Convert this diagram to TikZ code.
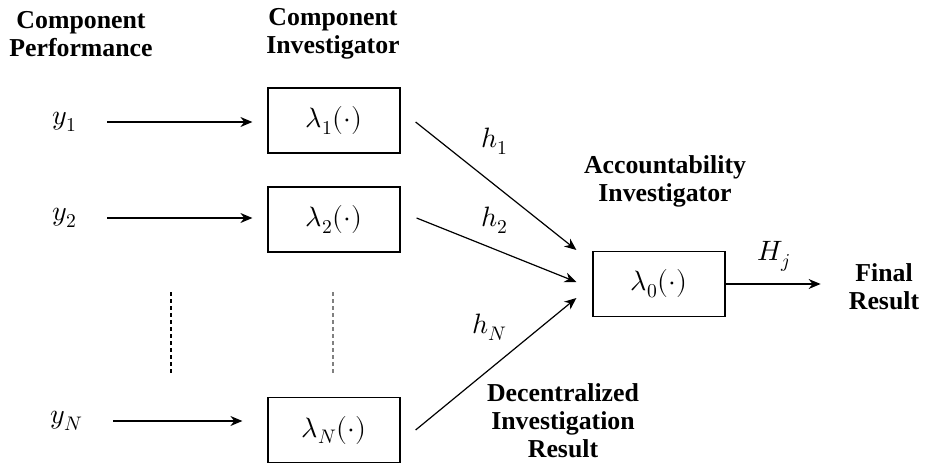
\documentclass[tikz,border=0pt]{standalone}
\usepackage{fontspec}
\usepackage{unicode-math}
\setmainfont{Liberation Serif}
\setmathfont{Latin Modern Math}
\usetikzlibrary{arrows.meta,calc}
\begin{document}
\begin{tikzpicture}[x=1pt,y=-1pt,
  lbl/.style={align=center,font=\fontsize{25.8}{28}\selectfont\bfseries,inner sep=0pt},
  mth/.style={font=\fontsize{28}{32}\selectfont,inner sep=0pt},
  fbox/.style={draw,line width=1.2pt,minimum width=132pt,minimum height=65pt,inner sep=0pt,font=\fontsize{28}{32}\selectfont},
  arr/.style={line width=1.2pt,-{Stealth[length=12pt,width=10pt]}},
  dots/.style={line width=1.1pt,dash pattern=on 4pt off 3pt}]
\path[use as bounding box] (0,0) rectangle (925,468);
% header labels
\node[lbl] (lcp) at (81,34) {Component\\Performance};
\node[lbl] (lci) at (333,34) {Component\\Investigator};
\node[lbl] (lai) at (665,181) {Accountability\\Investigator};
\node[lbl] (lfr) at (884,287) {Final\\Result};
\node[lbl] (ldr) at (563,421) {Decentralized\\Investigation\\Result};
% inputs
\node[mth] (y1) at (65,122) {$y_1$};
\node[mth] (y2) at (65,218) {$y_2$};
\node[mth] (yN) at (67,421) {$y_N$};
% component boxes
\node[fbox] (b1) at (334,120.5) {$\lambda_1(\cdot)$};
\node[fbox] (b2) at (334,219.5) {$\lambda_2(\cdot)$};
\node[fbox] (bN) at (334,430) {$\lambda_N(\cdot)$};
\node[fbox] (b0) at (659,284) {$\lambda_0(\cdot)$};
% input arrows
\draw[arr] ([xshift=42pt]y1.center) -- ([xshift=-15pt]y1.center -| b1.west);
\draw[arr] ([xshift=42pt]y2.center) -- ([xshift=-15pt]y2.center -| b2.west);
\draw[arr] ([xshift=46pt]yN.center) -- ([xshift=-25pt]yN.center -| bN.west);
% vertical ellipsis
\coordinate (d1a) at (171,292); \coordinate (d1b) at (171,374);
\coordinate (d2a) at (333,292); \coordinate (d2b) at (333,374);
\draw[dots] (d1a) -- (d1b);
\draw[dots,gray] (d2a) -- (d2b);
% arrows to accountability investigator
\draw[arr] ($(b1.east)+(15,1.5)$) -- ($(b0.west)+(-16,-34)$);
\draw[arr] ($(b2.east)+(16,-1.5)$) -- ($(b0.west)+(-16,-2)$);
\draw[arr] ($(bN.east)+(15,0)$) -- ($(b0.west)+(-16,14)$);
\node[mth] (h1) at (495,141) {$h_1$};
\node[mth] (h2) at (495,220) {$h_2$};
\node[mth] (hN) at (490,327) {$h_N$};
% output
\draw[arr] (b0.east) -- ++(95,0) coordinate (out);
\node[mth] (Hj) at (774,256) {$H_j$};
\end{tikzpicture}
\end{document}
